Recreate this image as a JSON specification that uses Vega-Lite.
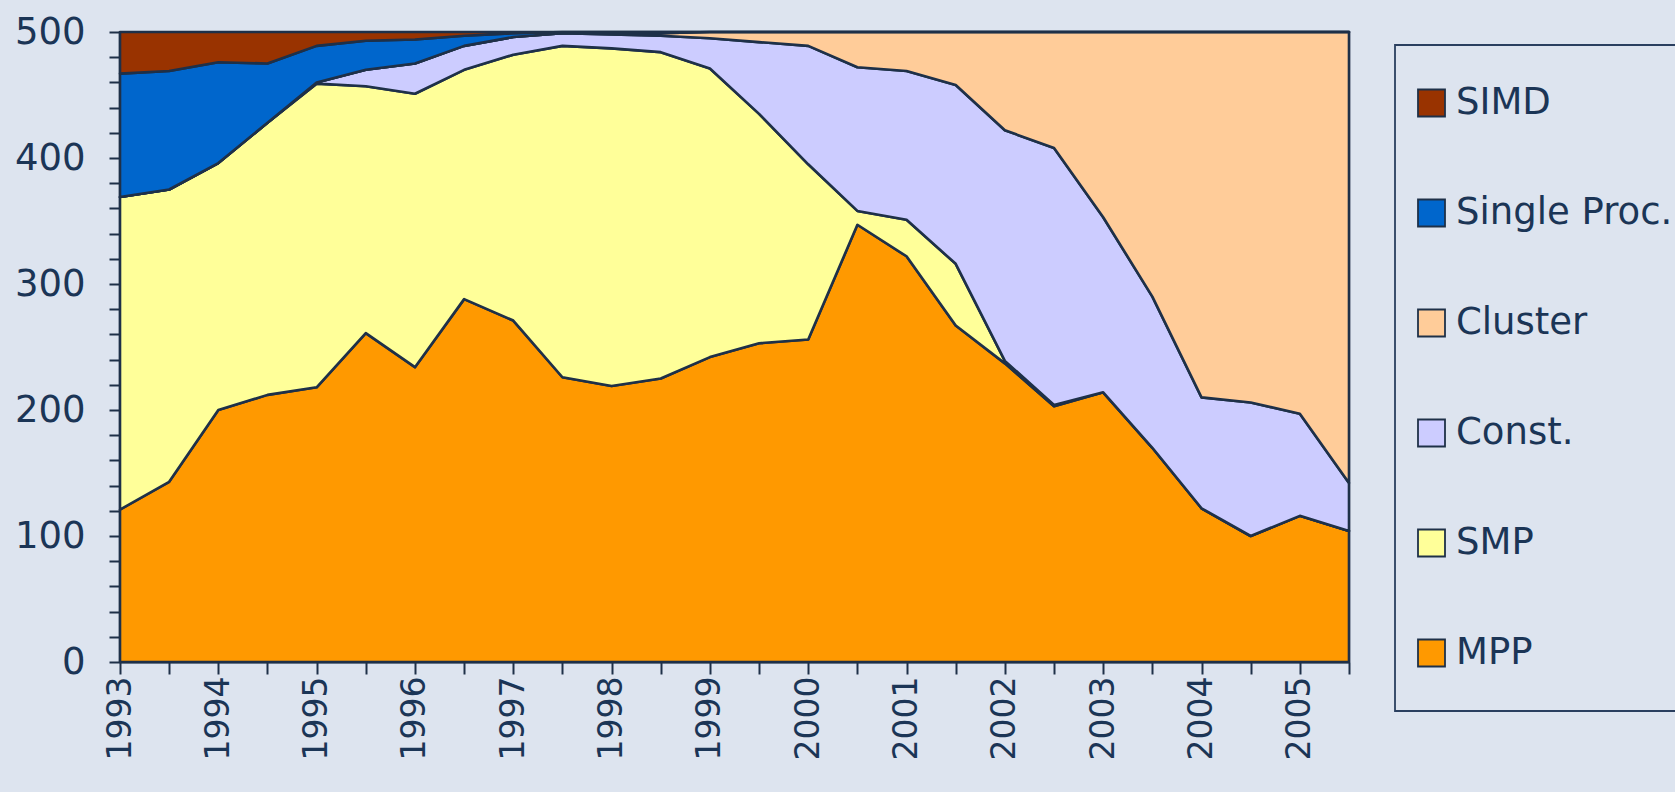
{
  "$schema": "https://vega.github.io/schema/vega-lite/v6.json",
  "width": 1229,
  "height": 630,
  "autosize": "none",
  "padding": {"left": 120, "top": 32, "right": 326, "bottom": 130},
  "background": "#dde4ef",
  "datasets": {
    "top500": [
      {"t":1993.0,"arch":"MPP","count":121},{"t":1993.0,"arch":"SMP","count":248},{"t":1993.0,"arch":"Const.","count":0},{"t":1993.0,"arch":"Cluster","count":0},{"t":1993.0,"arch":"Single Proc.","count":98},{"t":1993.0,"arch":"SIMD","count":33},
      {"t":1993.5,"arch":"MPP","count":143},{"t":1993.5,"arch":"SMP","count":232},{"t":1993.5,"arch":"Const.","count":0},{"t":1993.5,"arch":"Cluster","count":0},{"t":1993.5,"arch":"Single Proc.","count":94},{"t":1993.5,"arch":"SIMD","count":31},
      {"t":1994.0,"arch":"MPP","count":200},{"t":1994.0,"arch":"SMP","count":196},{"t":1994.0,"arch":"Const.","count":0},{"t":1994.0,"arch":"Cluster","count":0},{"t":1994.0,"arch":"Single Proc.","count":80},{"t":1994.0,"arch":"SIMD","count":24},
      {"t":1994.5,"arch":"MPP","count":212},{"t":1994.5,"arch":"SMP","count":216},{"t":1994.5,"arch":"Const.","count":0},{"t":1994.5,"arch":"Cluster","count":0},{"t":1994.5,"arch":"Single Proc.","count":47},{"t":1994.5,"arch":"SIMD","count":25},
      {"t":1995.0,"arch":"MPP","count":218},{"t":1995.0,"arch":"SMP","count":241},{"t":1995.0,"arch":"Const.","count":1},{"t":1995.0,"arch":"Cluster","count":0},{"t":1995.0,"arch":"Single Proc.","count":29},{"t":1995.0,"arch":"SIMD","count":11},
      {"t":1995.5,"arch":"MPP","count":261},{"t":1995.5,"arch":"SMP","count":196},{"t":1995.5,"arch":"Const.","count":13},{"t":1995.5,"arch":"Cluster","count":0},{"t":1995.5,"arch":"Single Proc.","count":23},{"t":1995.5,"arch":"SIMD","count":7},
      {"t":1996.0,"arch":"MPP","count":234},{"t":1996.0,"arch":"SMP","count":217},{"t":1996.0,"arch":"Const.","count":24},{"t":1996.0,"arch":"Cluster","count":0},{"t":1996.0,"arch":"Single Proc.","count":19},{"t":1996.0,"arch":"SIMD","count":6},
      {"t":1996.5,"arch":"MPP","count":288},{"t":1996.5,"arch":"SMP","count":182},{"t":1996.5,"arch":"Const.","count":19},{"t":1996.5,"arch":"Cluster","count":0},{"t":1996.5,"arch":"Single Proc.","count":8},{"t":1996.5,"arch":"SIMD","count":3},
      {"t":1997.0,"arch":"MPP","count":271},{"t":1997.0,"arch":"SMP","count":211},{"t":1997.0,"arch":"Const.","count":14},{"t":1997.0,"arch":"Cluster","count":0},{"t":1997.0,"arch":"Single Proc.","count":3},{"t":1997.0,"arch":"SIMD","count":1},
      {"t":1997.5,"arch":"MPP","count":226},{"t":1997.5,"arch":"SMP","count":263},{"t":1997.5,"arch":"Const.","count":10},{"t":1997.5,"arch":"Cluster","count":0},{"t":1997.5,"arch":"Single Proc.","count":1},{"t":1997.5,"arch":"SIMD","count":0},
      {"t":1998.0,"arch":"MPP","count":219},{"t":1998.0,"arch":"SMP","count":268},{"t":1998.0,"arch":"Const.","count":11},{"t":1998.0,"arch":"Cluster","count":1},{"t":1998.0,"arch":"Single Proc.","count":1},{"t":1998.0,"arch":"SIMD","count":0},
      {"t":1998.5,"arch":"MPP","count":225},{"t":1998.5,"arch":"SMP","count":259},{"t":1998.5,"arch":"Const.","count":13},{"t":1998.5,"arch":"Cluster","count":2},{"t":1998.5,"arch":"Single Proc.","count":1},{"t":1998.5,"arch":"SIMD","count":0},
      {"t":1999.0,"arch":"MPP","count":242},{"t":1999.0,"arch":"SMP","count":229},{"t":1999.0,"arch":"Const.","count":24},{"t":1999.0,"arch":"Cluster","count":5},{"t":1999.0,"arch":"Single Proc.","count":0},{"t":1999.0,"arch":"SIMD","count":0},
      {"t":1999.5,"arch":"MPP","count":253},{"t":1999.5,"arch":"SMP","count":182},{"t":1999.5,"arch":"Const.","count":57},{"t":1999.5,"arch":"Cluster","count":8},{"t":1999.5,"arch":"Single Proc.","count":0},{"t":1999.5,"arch":"SIMD","count":0},
      {"t":2000.0,"arch":"MPP","count":256},{"t":2000.0,"arch":"SMP","count":139},{"t":2000.0,"arch":"Const.","count":94},{"t":2000.0,"arch":"Cluster","count":11},{"t":2000.0,"arch":"Single Proc.","count":0},{"t":2000.0,"arch":"SIMD","count":0},
      {"t":2000.5,"arch":"MPP","count":347},{"t":2000.5,"arch":"SMP","count":11},{"t":2000.5,"arch":"Const.","count":114},{"t":2000.5,"arch":"Cluster","count":28},{"t":2000.5,"arch":"Single Proc.","count":0},{"t":2000.5,"arch":"SIMD","count":0},
      {"t":2001.0,"arch":"MPP","count":322},{"t":2001.0,"arch":"SMP","count":29},{"t":2001.0,"arch":"Const.","count":118},{"t":2001.0,"arch":"Cluster","count":31},{"t":2001.0,"arch":"Single Proc.","count":0},{"t":2001.0,"arch":"SIMD","count":0},
      {"t":2001.5,"arch":"MPP","count":267},{"t":2001.5,"arch":"SMP","count":49},{"t":2001.5,"arch":"Const.","count":142},{"t":2001.5,"arch":"Cluster","count":42},{"t":2001.5,"arch":"Single Proc.","count":0},{"t":2001.5,"arch":"SIMD","count":0},
      {"t":2002.0,"arch":"MPP","count":237},{"t":2002.0,"arch":"SMP","count":2},{"t":2002.0,"arch":"Const.","count":183},{"t":2002.0,"arch":"Cluster","count":78},{"t":2002.0,"arch":"Single Proc.","count":0},{"t":2002.0,"arch":"SIMD","count":0},
      {"t":2002.5,"arch":"MPP","count":203},{"t":2002.5,"arch":"SMP","count":1},{"t":2002.5,"arch":"Const.","count":204},{"t":2002.5,"arch":"Cluster","count":92},{"t":2002.5,"arch":"Single Proc.","count":0},{"t":2002.5,"arch":"SIMD","count":0},
      {"t":2003.0,"arch":"MPP","count":214},{"t":2003.0,"arch":"SMP","count":0},{"t":2003.0,"arch":"Const.","count":139},{"t":2003.0,"arch":"Cluster","count":147},{"t":2003.0,"arch":"Single Proc.","count":0},{"t":2003.0,"arch":"SIMD","count":0},
      {"t":2003.5,"arch":"MPP","count":170},{"t":2003.5,"arch":"SMP","count":0},{"t":2003.5,"arch":"Const.","count":120},{"t":2003.5,"arch":"Cluster","count":210},{"t":2003.5,"arch":"Single Proc.","count":0},{"t":2003.5,"arch":"SIMD","count":0},
      {"t":2004.0,"arch":"MPP","count":122},{"t":2004.0,"arch":"SMP","count":0},{"t":2004.0,"arch":"Const.","count":88},{"t":2004.0,"arch":"Cluster","count":290},{"t":2004.0,"arch":"Single Proc.","count":0},{"t":2004.0,"arch":"SIMD","count":0},
      {"t":2004.5,"arch":"MPP","count":100},{"t":2004.5,"arch":"SMP","count":0},{"t":2004.5,"arch":"Const.","count":106},{"t":2004.5,"arch":"Cluster","count":294},{"t":2004.5,"arch":"Single Proc.","count":0},{"t":2004.5,"arch":"SIMD","count":0},
      {"t":2005.0,"arch":"MPP","count":116},{"t":2005.0,"arch":"SMP","count":0},{"t":2005.0,"arch":"Const.","count":81},{"t":2005.0,"arch":"Cluster","count":303},{"t":2005.0,"arch":"Single Proc.","count":0},{"t":2005.0,"arch":"SIMD","count":0},
      {"t":2005.5,"arch":"MPP","count":104},{"t":2005.5,"arch":"SMP","count":0},{"t":2005.5,"arch":"Const.","count":38},{"t":2005.5,"arch":"Cluster","count":358},{"t":2005.5,"arch":"Single Proc.","count":0},{"t":2005.5,"arch":"SIMD","count":0}
    ]
  },
  "data": {"name": "top500"},
  "transform": [
    {"calculate": "indexof(['MPP','SMP','Const.','Cluster','Single Proc.','SIMD'], datum.arch)", "as": "stackOrder"}
  ],
  "mark": {"type": "area", "stroke": "#1e3048", "strokeWidth": 2.6, "strokeJoin": "round"},
  "encoding": {
    "x": {
      "field": "t", "type": "quantitative",
      "scale": {"domain": [1993, 2005.5], "nice": false, "zero": false},
      "axis": {
        "title": null, "grid": false,
        "values": [1993,1993.5,1994,1994.5,1995,1995.5,1996,1996.5,1997,1997.5,1998,1998.5,1999,1999.5,2000,2000.5,2001,2001.5,2002,2002.5,2003,2003.5,2004,2004.5,2005,2005.5],
        "labelExpr": "datum.value % 1 === 0 ? format(datum.value, 'd') : ''",
        "labelAngle": -90, "labelFont": "DejaVu Sans", "labelFontSize": 33, "labelColor": "#1b3556",
        "labelPadding": 2, "labelOverlap": false, "labelBound": false, "labelFlush": false,
        "tickColor": "#1e3048", "tickSize": 12, "tickWidth": 2,
        "domainColor": "#1e3048", "domainWidth": 2
      }
    },
    "y": {
      "field": "count", "type": "quantitative", "stack": "zero",
      "scale": {"domain": [0, 500], "nice": false},
      "axis": {
        "title": null, "grid": false,
        "values": [0,20,40,60,80,100,120,140,160,180,200,220,240,260,280,300,320,340,360,380,400,420,440,460,480,500],
        "labelExpr": "datum.value % 100 === 0 ? format(datum.value, 'd') : ''",
        "labelFont": "DejaVu Sans", "labelFontSize": 37, "labelColor": "#1b3556",
        "labelPadding": 24, "labelOverlap": false, "labelBound": false, "labelFlush": false,
        "tickColor": "#1e3048", "tickSize": 11, "tickWidth": 2,
        "domainColor": "#1e3048", "domainWidth": 2
      }
    },
    "color": {
      "field": "arch", "type": "nominal",
      "scale": {
        "domain": ["SIMD", "Single Proc.", "Cluster", "Const.", "SMP", "MPP"],
        "range": ["#993300", "#0066cc", "#ffcc99", "#ccccff", "#ffff99", "#ff9900"]
      },
      "legend": {
        "orient": "none", "legendX": 1275, "legendY": 13, "title": null,
        "symbolType": "square", "symbolSize": 729, "symbolStrokeColor": "#1e3048",
        "labelFont": "DejaVu Sans", "labelFontSize": 37, "labelColor": "#1b3556", "labelOffset": 6, "labelLimit": 400,
        "clipHeight": 80, "rowPadding": 30, "padding": 18,
        "strokeColor": "#2a3f5f",
        "encode": {
          "legend": {"update": {"strokeWidth": {"value": 1.8}}},
          "symbols": {"update": {"strokeWidth": {"value": 1.8}}}
        }
      }
    },
    "order": {"field": "stackOrder", "type": "quantitative"}
  },
  "config": {"view": {"stroke": "#1e3048", "strokeWidth": 2.2}}
}
